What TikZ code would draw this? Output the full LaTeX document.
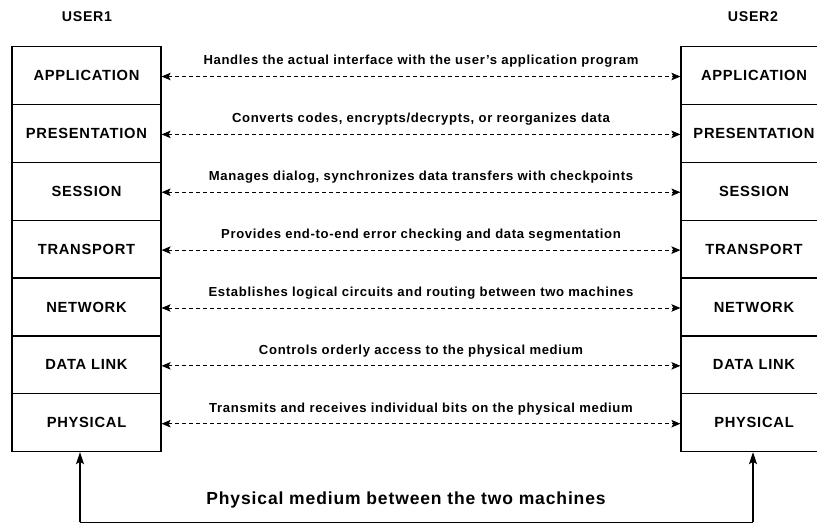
\documentclass[tikz,border=0pt]{standalone}
\usepackage{fontspec}
\setmainfont{Liberation Sans}[LetterSpace=5]
\usetikzlibrary{arrows.meta}
\begin{document}
\begin{tikzpicture}[x=1pt,y=-1pt,
  layerL/.style={draw, line width=1.2pt, minimum width=149pt, minimum height=57.86pt,
    inner sep=0pt, anchor=north, font=\bfseries\fontsize{14.7}{16}\selectfont},
  layerR/.style={layerL, minimum width=146pt},
  title/.style={font=\bfseries\fontsize{14.2}{16}\selectfont, inner sep=0pt},
  tipd/.tip={Stealth[length=9pt,width=7.5pt,inset=2pt]},
  tipm/.tip={Stealth[length=12pt,width=8pt,inset=2.5pt]},
  conn/.style={line width=0.8pt, dash pattern=on 4pt off 3pt, tipd-tipd},
  lbl/.style={font=\bfseries\fontsize{13.1}{14}\selectfont, inner sep=0pt},
  medium/.style={line width=1.1pt},
  mediumlbl/.style={font=\bfseries\fontsize{17.5}{19}\selectfont, inner sep=0pt}
]
\useasboundingbox (0,0) rectangle (817,523);

\node[title] (u1) at (87,17) {USER1};
\node[title] (u2) at (753,17) {USER2};

\foreach \i/\name/\txt in {
  1/APPLICATION/Handles the actual interface with the user's application program,
  2/PRESENTATION/{Converts codes, encrypts/decrypts, or reorganizes data},
  3/SESSION/{Manages dialog, synchronizes data transfers with checkpoints},
  4/TRANSPORT/Provides end-to-end error checking and data segmentation,
  5/NETWORK/Establishes logical circuits and routing between two machines,
  6/DATA LINK/Controls orderly access to the physical medium,
  7/PHYSICAL/Transmits and receives individual bits on the physical medium} {
  \pgfmathsetmacro{\yy}{46+57.86*(\i-1)}
  \node[layerL] (L\i) at (86.5,\yy) {\name};
  \node[layerR] (R\i) at (754,\yy) {\name};
  \draw[conn] ([yshift=-1pt]L\i.east) -- ([yshift=-1pt]R\i.west)
    node[midway, lbl, yshift=15pt] {\txt};
}

\coordinate (bl) at (80,522.3);
\coordinate (br) at (753,522.3);
\draw[medium, -tipm] (bl) -- (bl |- L7.south);
\draw[medium, -tipm] (br) -- (br |- R7.south);
\draw[medium] (bl) -- (br);
\node[mediumlbl] (ml) at (406,500) {Physical medium between the two machines};
\end{tikzpicture}
\end{document}
